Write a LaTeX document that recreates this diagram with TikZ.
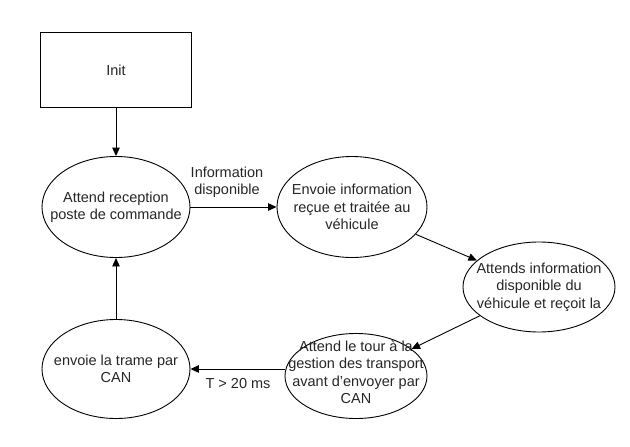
\documentclass[tikz,border=0pt]{standalone}
\usepackage{fontspec}
\setmainfont{Liberation Sans}
\usetikzlibrary{shapes.geometric,arrows.meta}
\begin{document}
\begin{tikzpicture}[x=1pt,y=-1pt,
  every node/.style={font=\fontsize{14.5}{17.5}\selectfont, text=black!85},
  state/.style={draw, ellipse, line width=0.9pt, inner sep=0pt},
  conn/.style={draw, line width=0.9pt, -{Triangle[length=8.5pt,width=7.5pt]}},
  lbl/.style={align=center, inner sep=0pt}]
\useasboundingbox (0,0) rectangle (630,447);
\node[draw, line width=0.9pt, minimum width=151pt, minimum height=75pt, inner sep=0pt] (init) at (116,70) {Init};
\node[state, minimum width=148pt, minimum height=101pt, label={[lbl]center:{Attend reception\\poste de commande}}] (e1) at (116,207) {};
\node[state, minimum width=150pt, minimum height=101pt, label={[lbl]center:{Envoie information\\reçue et traitée au\\véhicule}}] (e2) at (352,207) {};
\node[state, minimum width=152pt, minimum height=90pt, label={[lbl]center:{Attends information\\disponible du\\véhicule et reçoit la}}] (e3) at (539,287) {};
\node[state, minimum width=142pt, minimum height=85pt, label={[lbl,yshift=4pt]center:{Attend le tour à la\\gestion des transport\\avant d'envoyer par\\CAN}}] (e4) at (356,376) {};
\node[state, minimum width=148pt, minimum height=99pt, label={[lbl]center:{envoie la trame par\\CAN}}] (e5) at (116,369) {};
\draw[conn] (init) -- (e1);
\draw[conn] (e1) -- (e2);
\draw[conn] (e2) -- (e3);
\draw[conn] (e3) -- (e4);
\draw[conn] (e4.west |- e5.east) -- (e5.east);
\draw[conn] (e5) -- (e1);
\node[lbl] (l1) at (227,182) {Information\\disponible};
\node[lbl] (l2) at (238,384) {T > 20 ms};
\end{tikzpicture}
\end{document}
